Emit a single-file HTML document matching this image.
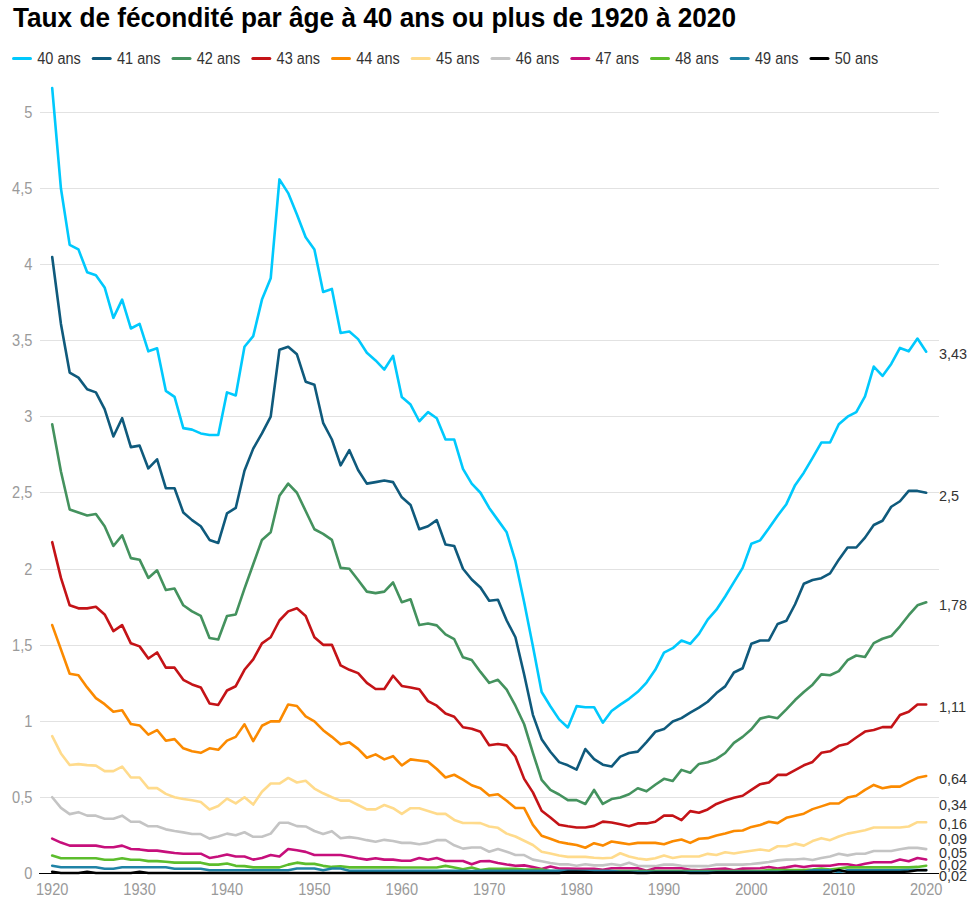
<!DOCTYPE html>
<html><head><meta charset="utf-8"><title>Taux de fécondité</title>
<style>html,body{margin:0;padding:0;background:#fff;}body{width:980px;height:910px;position:relative;overflow:hidden;font-family:"Liberation Sans", sans-serif;}</style>
</head><body>
<svg width="980" height="910" viewBox="0 0 980 910" style="position:absolute;left:0;top:0"><text x="13" y="26.7" font-family='"Liberation Sans", sans-serif' font-weight="bold" font-size="27.6" fill="#000" textLength="723" lengthAdjust="spacingAndGlyphs">Taux de fécondité par âge à 40 ans ou plus de 1920 à 2020</text><line x1="13.5" y1="58.5" x2="30.5" y2="58.5" stroke="#00c9fd" stroke-width="3" stroke-linecap="round"/><text x="37.3" y="63.6" font-family='"Liberation Sans", sans-serif' font-size="15.8" fill="#333" textLength="43.5" lengthAdjust="spacingAndGlyphs">40 ans</text><line x1="93.2" y1="58.5" x2="110.2" y2="58.5" stroke="#0f5a7c" stroke-width="3" stroke-linecap="round"/><text x="117.0" y="63.6" font-family='"Liberation Sans", sans-serif' font-size="15.8" fill="#333" textLength="43.5" lengthAdjust="spacingAndGlyphs">41 ans</text><line x1="173.0" y1="58.5" x2="190.0" y2="58.5" stroke="#44925e" stroke-width="3" stroke-linecap="round"/><text x="196.8" y="63.6" font-family='"Liberation Sans", sans-serif' font-size="15.8" fill="#333" textLength="43.5" lengthAdjust="spacingAndGlyphs">42 ans</text><line x1="252.8" y1="58.5" x2="269.8" y2="58.5" stroke="#c41317" stroke-width="3" stroke-linecap="round"/><text x="276.6" y="63.6" font-family='"Liberation Sans", sans-serif' font-size="15.8" fill="#333" textLength="43.5" lengthAdjust="spacingAndGlyphs">43 ans</text><line x1="332.5" y1="58.5" x2="349.5" y2="58.5" stroke="#fb8a00" stroke-width="3" stroke-linecap="round"/><text x="356.3" y="63.6" font-family='"Liberation Sans", sans-serif' font-size="15.8" fill="#333" textLength="43.5" lengthAdjust="spacingAndGlyphs">44 ans</text><line x1="412.2" y1="58.5" x2="429.2" y2="58.5" stroke="#ffdb8c" stroke-width="3" stroke-linecap="round"/><text x="436.1" y="63.6" font-family='"Liberation Sans", sans-serif' font-size="15.8" fill="#333" textLength="43.5" lengthAdjust="spacingAndGlyphs">45 ans</text><line x1="492.0" y1="58.5" x2="509.0" y2="58.5" stroke="#c4c4c4" stroke-width="3" stroke-linecap="round"/><text x="515.8" y="63.6" font-family='"Liberation Sans", sans-serif' font-size="15.8" fill="#333" textLength="43.5" lengthAdjust="spacingAndGlyphs">46 ans</text><line x1="571.8" y1="58.5" x2="588.8" y2="58.5" stroke="#c60f7b" stroke-width="3" stroke-linecap="round"/><text x="595.5" y="63.6" font-family='"Liberation Sans", sans-serif' font-size="15.8" fill="#333" textLength="43.5" lengthAdjust="spacingAndGlyphs">47 ans</text><line x1="651.5" y1="58.5" x2="668.5" y2="58.5" stroke="#5cbd2c" stroke-width="3" stroke-linecap="round"/><text x="675.3" y="63.6" font-family='"Liberation Sans", sans-serif' font-size="15.8" fill="#333" textLength="43.5" lengthAdjust="spacingAndGlyphs">48 ans</text><line x1="731.2" y1="58.5" x2="748.2" y2="58.5" stroke="#1f83a6" stroke-width="3" stroke-linecap="round"/><text x="755.0" y="63.6" font-family='"Liberation Sans", sans-serif' font-size="15.8" fill="#333" textLength="43.5" lengthAdjust="spacingAndGlyphs">49 ans</text><line x1="811.0" y1="58.5" x2="828.0" y2="58.5" stroke="#000000" stroke-width="3" stroke-linecap="round"/><text x="834.8" y="63.6" font-family='"Liberation Sans", sans-serif' font-size="15.8" fill="#333" textLength="43.5" lengthAdjust="spacingAndGlyphs">50 ans</text><line x1="40" y1="797.5" x2="939" y2="797.5" stroke="#e2e2e2" stroke-width="1"/><text transform="translate(32.4,803.1) scale(0.925,1)" text-anchor="end" font-family='"Liberation Sans", sans-serif' font-size="15.8" fill="#9a9a9a">0,5</text><line x1="40" y1="721.5" x2="939" y2="721.5" stroke="#e2e2e2" stroke-width="1"/><text transform="translate(32.4,727.1) scale(0.925,1)" text-anchor="end" font-family='"Liberation Sans", sans-serif' font-size="15.8" fill="#9a9a9a">1</text><line x1="40" y1="645.5" x2="939" y2="645.5" stroke="#e2e2e2" stroke-width="1"/><text transform="translate(32.4,651.1) scale(0.925,1)" text-anchor="end" font-family='"Liberation Sans", sans-serif' font-size="15.8" fill="#9a9a9a">1,5</text><line x1="40" y1="569.5" x2="939" y2="569.5" stroke="#e2e2e2" stroke-width="1"/><text transform="translate(32.4,575.1) scale(0.925,1)" text-anchor="end" font-family='"Liberation Sans", sans-serif' font-size="15.8" fill="#9a9a9a">2</text><line x1="40" y1="492.5" x2="939" y2="492.5" stroke="#e2e2e2" stroke-width="1"/><text transform="translate(32.4,498.1) scale(0.925,1)" text-anchor="end" font-family='"Liberation Sans", sans-serif' font-size="15.8" fill="#9a9a9a">2,5</text><line x1="40" y1="416.5" x2="939" y2="416.5" stroke="#e2e2e2" stroke-width="1"/><text transform="translate(32.4,422.1) scale(0.925,1)" text-anchor="end" font-family='"Liberation Sans", sans-serif' font-size="15.8" fill="#9a9a9a">3</text><line x1="40" y1="340.5" x2="939" y2="340.5" stroke="#e2e2e2" stroke-width="1"/><text transform="translate(32.4,346.1) scale(0.925,1)" text-anchor="end" font-family='"Liberation Sans", sans-serif' font-size="15.8" fill="#9a9a9a">3,5</text><line x1="40" y1="264.5" x2="939" y2="264.5" stroke="#e2e2e2" stroke-width="1"/><text transform="translate(32.4,270.1) scale(0.925,1)" text-anchor="end" font-family='"Liberation Sans", sans-serif' font-size="15.8" fill="#9a9a9a">4</text><line x1="40" y1="188.5" x2="939" y2="188.5" stroke="#e2e2e2" stroke-width="1"/><text transform="translate(32.4,194.1) scale(0.925,1)" text-anchor="end" font-family='"Liberation Sans", sans-serif' font-size="15.8" fill="#9a9a9a">4,5</text><line x1="40" y1="112.5" x2="939" y2="112.5" stroke="#e2e2e2" stroke-width="1"/><text transform="translate(32.4,118.1) scale(0.925,1)" text-anchor="end" font-family='"Liberation Sans", sans-serif' font-size="15.8" fill="#9a9a9a">5</text><text transform="translate(32.4,878.6) scale(0.925,1)" text-anchor="end" font-family='"Liberation Sans", sans-serif' font-size="15.8" fill="#9a9a9a">0</text><text transform="translate(52.2,894.9) scale(0.925,1)" text-anchor="middle" font-family='"Liberation Sans", sans-serif' font-size="15.8" fill="#9a9a9a">1920</text><text transform="translate(139.6,894.9) scale(0.925,1)" text-anchor="middle" font-family='"Liberation Sans", sans-serif' font-size="15.8" fill="#9a9a9a">1930</text><text transform="translate(227.0,894.9) scale(0.925,1)" text-anchor="middle" font-family='"Liberation Sans", sans-serif' font-size="15.8" fill="#9a9a9a">1940</text><text transform="translate(314.4,894.9) scale(0.925,1)" text-anchor="middle" font-family='"Liberation Sans", sans-serif' font-size="15.8" fill="#9a9a9a">1950</text><text transform="translate(401.8,894.9) scale(0.925,1)" text-anchor="middle" font-family='"Liberation Sans", sans-serif' font-size="15.8" fill="#9a9a9a">1960</text><text transform="translate(489.2,894.9) scale(0.925,1)" text-anchor="middle" font-family='"Liberation Sans", sans-serif' font-size="15.8" fill="#9a9a9a">1970</text><text transform="translate(576.6,894.9) scale(0.925,1)" text-anchor="middle" font-family='"Liberation Sans", sans-serif' font-size="15.8" fill="#9a9a9a">1980</text><text transform="translate(664.0,894.9) scale(0.925,1)" text-anchor="middle" font-family='"Liberation Sans", sans-serif' font-size="15.8" fill="#9a9a9a">1990</text><text transform="translate(751.4,894.9) scale(0.925,1)" text-anchor="middle" font-family='"Liberation Sans", sans-serif' font-size="15.8" fill="#9a9a9a">2000</text><text transform="translate(838.8,894.9) scale(0.925,1)" text-anchor="middle" font-family='"Liberation Sans", sans-serif' font-size="15.8" fill="#9a9a9a">2010</text><text transform="translate(926.2,894.9) scale(0.925,1)" text-anchor="middle" font-family='"Liberation Sans", sans-serif' font-size="15.8" fill="#9a9a9a">2020</text><polyline points="52.20,88.16 60.94,188.55 69.68,244.83 78.42,249.39 87.16,272.21 95.90,275.25 104.64,287.41 113.38,317.84 122.12,299.58 130.86,328.48 139.60,323.92 148.34,351.30 157.08,348.25 165.82,390.84 174.56,396.93 183.30,428.11 192.04,429.63 200.78,433.43 209.52,434.95 218.26,434.95 227.00,392.36 235.74,395.41 244.48,346.73 253.22,336.09 261.96,299.58 270.70,278.29 279.44,179.42 288.18,193.11 296.92,214.41 305.66,237.22 314.40,249.39 323.14,291.98 331.88,288.94 340.62,333.05 349.36,331.52 358.10,339.13 366.84,352.82 375.58,360.42 384.32,369.55 393.06,355.86 401.80,396.93 410.54,404.53 419.28,421.26 428.02,412.14 436.76,418.22 445.50,439.51 454.24,439.51 462.98,468.87 471.72,483.62 480.46,492.75 489.20,507.96 497.94,520.13 506.68,532.30 515.42,561.20 524.16,602.26 532.90,646.37 541.64,692.00 550.38,706.30 559.12,719.38 567.86,727.44 576.60,706.15 585.34,707.21 594.08,707.21 602.82,722.73 611.56,711.01 620.30,704.63 629.04,698.85 637.78,691.85 646.52,682.57 655.26,669.79 664.00,652.61 672.74,648.20 681.48,640.44 690.22,643.79 698.96,633.90 707.70,619.60 716.44,609.71 725.18,596.48 733.92,582.18 742.66,567.89 751.40,543.70 760.14,540.36 768.88,528.34 777.62,515.72 786.36,504.16 795.10,485.15 803.84,472.67 812.58,457.92 821.32,442.56 830.06,442.56 838.80,424.31 847.54,416.70 856.28,412.14 865.02,396.32 873.76,366.51 882.50,375.94 891.24,363.92 899.98,347.95 908.72,351.30 917.46,338.52 926.20,351.75" fill="none" stroke="#00c9fd" stroke-width="2.6" stroke-linejoin="round" stroke-linecap="round"/><polyline points="52.20,257.00 60.94,323.92 69.68,372.59 78.42,377.61 87.16,389.32 95.90,392.36 104.64,409.10 113.38,436.47 122.12,418.22 130.86,447.12 139.60,445.60 148.34,468.41 157.08,459.29 165.82,488.19 174.56,488.19 183.30,512.52 192.04,520.13 200.78,526.21 209.52,539.90 218.26,542.94 227.00,513.28 235.74,507.96 244.48,470.70 253.22,448.64 261.96,433.43 270.70,416.70 279.44,349.78 288.18,346.73 296.92,354.34 305.66,381.72 314.40,384.76 323.14,422.78 331.88,439.51 340.62,465.37 349.36,450.16 358.10,469.94 366.84,483.62 375.58,482.10 384.32,480.58 393.06,482.10 401.80,497.31 410.54,504.92 419.28,529.25 428.02,526.21 436.76,520.13 445.50,544.46 454.24,545.99 462.98,568.80 471.72,579.45 480.46,587.51 489.20,600.74 497.94,599.68 506.68,620.51 515.42,637.25 524.16,674.51 532.90,714.82 541.64,739.15 550.38,751.78 559.12,762.12 567.86,765.31 576.60,769.57 585.34,749.04 594.08,759.08 602.82,764.70 611.56,766.53 620.30,756.64 629.04,752.99 637.78,751.62 646.52,742.04 655.26,731.85 664.00,729.11 672.74,721.51 681.48,718.16 690.22,712.69 698.96,707.67 707.70,701.74 716.44,693.07 725.18,686.37 733.92,672.53 742.66,668.27 751.40,643.79 760.14,640.44 768.88,640.44 777.62,624.01 786.36,620.82 795.10,604.24 803.84,583.71 812.58,580.06 821.32,578.23 830.06,573.36 838.80,559.67 847.54,547.51 856.28,547.51 865.02,537.62 873.76,525.00 882.50,520.74 891.24,506.74 899.98,501.27 908.72,490.92 917.46,490.92 926.20,492.75" fill="none" stroke="#0f5a7c" stroke-width="2.6" stroke-linejoin="round" stroke-linecap="round"/><polyline points="52.20,424.31 60.94,471.46 69.68,509.48 78.42,512.52 87.16,515.57 95.90,514.04 104.64,526.21 113.38,545.99 122.12,535.34 130.86,558.15 139.60,559.67 148.34,577.93 157.08,570.32 165.82,590.09 174.56,588.57 183.30,605.30 192.04,611.39 200.78,615.95 209.52,638.01 218.26,639.53 227.00,615.95 235.74,614.43 244.48,588.57 253.22,564.24 261.96,539.90 270.70,532.30 279.44,495.79 288.18,483.62 296.92,492.75 305.66,511.00 314.40,529.25 323.14,533.82 331.88,539.90 340.62,567.89 349.36,568.80 358.10,580.06 366.84,591.62 375.58,593.14 384.32,591.62 393.06,582.49 401.80,602.26 410.54,599.22 419.28,625.08 428.02,623.56 436.76,625.38 445.50,634.36 454.24,639.22 462.98,657.32 471.72,660.06 480.46,671.92 489.20,682.88 497.94,679.83 506.68,689.72 515.42,705.69 524.16,724.25 532.90,752.84 541.64,779.91 550.38,789.95 559.12,794.52 567.86,800.14 576.60,800.14 585.34,803.95 594.08,789.95 602.82,803.95 611.56,799.08 620.30,797.41 629.04,794.21 637.78,788.28 646.52,791.32 655.26,784.78 664.00,778.85 672.74,780.98 681.48,769.88 690.22,772.77 698.96,763.94 707.70,762.27 716.44,758.92 725.18,752.99 733.92,742.80 742.66,736.87 751.40,729.27 760.14,718.62 768.88,716.49 777.62,718.16 786.36,709.34 795.10,700.06 803.84,692.00 812.58,684.70 821.32,674.36 830.06,675.27 838.80,671.16 847.54,660.21 856.28,655.50 865.02,657.02 873.76,643.18 882.50,638.77 891.24,636.03 899.98,626.29 908.72,615.19 917.46,605.30 926.20,602.26" fill="none" stroke="#44925e" stroke-width="2.6" stroke-linejoin="round" stroke-linecap="round"/><polyline points="52.20,542.18 60.94,577.93 69.68,605.30 78.42,608.35 87.16,608.35 95.90,606.83 104.64,614.43 113.38,631.16 122.12,625.08 130.86,643.33 139.60,646.37 148.34,658.54 157.08,652.46 165.82,667.66 174.56,667.66 183.30,679.83 192.04,684.40 200.78,687.44 209.52,703.41 218.26,704.93 227.00,690.48 235.74,686.22 244.48,669.79 253.22,659.30 261.96,643.33 270.70,637.25 279.44,620.51 288.18,611.39 296.92,608.35 305.66,615.95 314.40,637.25 323.14,644.85 331.88,644.85 340.62,665.38 349.36,669.79 358.10,673.14 366.84,682.88 375.58,688.96 384.32,688.96 393.06,675.73 401.80,685.92 410.54,687.44 419.28,689.26 428.02,701.13 436.76,705.69 445.50,713.45 454.24,716.79 462.98,727.29 471.72,728.81 480.46,731.85 489.20,745.24 497.94,744.02 506.68,745.39 515.42,756.49 524.16,778.85 532.90,792.39 541.64,810.79 550.38,817.48 559.12,824.78 567.86,826.31 576.60,827.52 585.34,827.52 594.08,825.85 602.82,821.59 611.56,822.50 620.30,824.33 629.04,826.31 637.78,823.42 646.52,823.42 655.26,821.74 664.00,815.66 672.74,815.66 681.48,820.22 690.22,811.10 698.96,812.77 707.70,809.42 716.44,803.95 725.18,800.60 733.92,797.86 742.66,795.73 751.40,789.80 760.14,784.17 768.88,782.50 777.62,774.90 786.36,774.90 795.10,770.18 803.84,765.31 812.58,761.97 821.32,752.84 830.06,751.32 838.80,745.84 847.54,743.72 856.28,737.48 865.02,731.55 873.76,730.03 882.50,727.14 891.24,727.14 899.98,714.97 908.72,711.77 917.46,704.47 926.20,704.47" fill="none" stroke="#c41317" stroke-width="2.6" stroke-linejoin="round" stroke-linecap="round"/><polyline points="52.20,625.08 60.94,649.41 69.68,673.75 78.42,675.27 87.16,687.44 95.90,698.09 104.64,704.17 113.38,711.77 122.12,710.25 130.86,723.94 139.60,725.46 148.34,734.59 157.08,730.03 165.82,740.67 174.56,739.15 183.30,748.28 192.04,751.32 200.78,752.84 209.52,748.28 218.26,749.80 227.00,740.67 235.74,736.87 244.48,724.25 253.22,741.13 261.96,725.77 270.70,721.36 279.44,721.36 288.18,704.47 296.92,705.99 305.66,716.34 314.40,721.36 323.14,730.18 331.88,736.87 340.62,744.17 349.36,742.35 358.10,748.89 366.84,757.71 375.58,754.36 384.32,759.38 393.06,756.19 401.80,765.47 410.54,759.38 419.28,760.45 428.02,761.66 436.76,768.96 445.50,777.48 454.24,774.74 462.98,779.61 471.72,785.24 480.46,788.28 489.20,795.58 497.94,794.21 506.68,800.75 515.42,808.05 524.16,808.05 532.90,824.94 541.64,835.74 550.38,838.78 559.12,841.97 567.86,843.64 576.60,845.01 585.34,847.75 594.08,843.19 602.82,845.62 611.56,841.52 620.30,842.88 629.04,844.25 637.78,842.88 646.52,842.88 655.26,842.88 664.00,844.25 672.74,841.21 681.48,839.54 690.22,842.88 698.96,838.78 707.70,838.17 716.44,835.43 725.18,833.45 733.92,831.02 742.66,830.56 751.40,826.91 760.14,824.94 768.88,821.74 777.62,823.11 786.36,817.79 795.10,815.66 803.84,813.68 812.58,809.12 821.32,806.38 830.06,803.49 838.80,803.49 847.54,797.56 856.28,795.73 865.02,789.80 873.76,784.93 882.50,788.28 891.24,786.61 899.98,786.61 908.72,782.20 917.46,777.79 926.20,775.96" fill="none" stroke="#fb8a00" stroke-width="2.6" stroke-linejoin="round" stroke-linecap="round"/><polyline points="52.20,736.11 60.94,753.45 69.68,765.01 78.42,764.10 87.16,765.16 95.90,765.62 104.64,771.09 113.38,771.09 122.12,766.53 130.86,777.48 139.60,777.48 148.34,788.13 157.08,788.13 165.82,793.91 174.56,797.25 183.30,798.93 192.04,800.30 200.78,801.97 209.52,809.57 218.26,806.08 227.00,798.62 235.74,803.34 244.48,797.25 253.22,804.56 261.96,791.78 270.70,783.57 279.44,783.57 288.18,777.94 296.92,782.50 305.66,780.83 314.40,788.58 323.14,793.30 331.88,797.25 340.62,800.60 349.36,800.60 358.10,805.01 366.84,809.42 375.58,809.42 384.32,805.01 393.06,808.21 401.80,813.83 410.54,808.21 419.28,808.21 428.02,810.94 436.76,813.83 445.50,813.83 454.24,819.92 462.98,822.96 471.72,822.96 480.46,823.11 489.20,826.46 497.94,827.83 506.68,833.61 515.42,836.50 524.16,840.75 532.90,845.01 541.64,851.71 550.38,853.53 559.12,855.51 567.86,856.88 576.60,856.88 585.34,856.88 594.08,857.79 602.82,858.25 611.56,857.79 620.30,853.23 629.04,856.57 637.78,858.55 646.52,859.62 655.26,858.25 664.00,855.51 672.74,857.94 681.48,856.57 690.22,856.57 698.96,856.57 707.70,853.84 716.44,855.05 725.18,852.31 733.92,853.53 742.66,852.01 751.40,850.79 760.14,849.42 768.88,850.79 777.62,846.23 786.36,846.23 795.10,843.64 803.84,845.62 812.58,841.06 821.32,838.17 830.06,840.15 838.80,836.50 847.54,833.61 856.28,831.93 865.02,830.26 873.76,827.52 882.50,827.52 891.24,827.52 899.98,827.52 908.72,826.46 917.46,822.20 926.20,822.20" fill="none" stroke="#ffdb8c" stroke-width="2.6" stroke-linejoin="round" stroke-linecap="round"/><polyline points="52.20,797.25 60.94,807.90 69.68,814.14 78.42,812.16 87.16,815.66 95.90,815.66 104.64,818.70 113.38,818.70 122.12,815.66 130.86,821.74 139.60,821.74 148.34,826.31 157.08,826.31 165.82,829.35 174.56,831.02 183.30,832.39 192.04,834.06 200.78,834.06 209.52,838.63 218.26,836.50 227.00,833.61 235.74,835.28 244.48,832.24 253.22,836.80 261.96,836.80 270.70,833.61 279.44,822.81 288.18,822.81 296.92,826.15 305.66,826.46 314.40,831.02 323.14,834.06 331.88,831.17 340.62,838.32 349.36,837.10 358.10,838.32 366.84,840.15 375.58,841.67 384.32,839.84 393.06,841.06 401.80,842.88 410.54,842.88 419.28,844.25 428.02,842.88 436.76,840.15 445.50,839.99 454.24,845.32 462.98,848.66 471.72,847.45 480.46,847.45 489.20,851.71 497.94,848.97 506.68,851.71 515.42,855.05 524.16,855.05 532.90,859.62 541.64,861.29 550.38,862.96 559.12,864.33 567.86,864.33 576.60,865.70 585.34,864.33 594.08,865.39 602.82,865.39 611.56,864.03 620.30,865.39 629.04,862.66 637.78,865.70 646.52,866.16 655.26,866.16 664.00,864.63 672.74,864.63 681.48,865.70 690.22,866.16 698.96,866.16 707.70,866.16 716.44,864.63 725.18,864.63 733.92,864.63 742.66,864.63 751.40,864.03 760.14,863.11 768.88,862.05 777.62,860.38 786.36,859.62 795.10,859.46 803.84,858.70 812.58,859.92 821.32,858.09 830.06,856.42 838.80,853.68 847.54,855.36 856.28,853.68 865.02,853.68 873.76,850.95 882.50,850.95 891.24,850.95 899.98,849.27 908.72,847.90 917.46,847.90 926.20,849.12" fill="none" stroke="#c4c4c4" stroke-width="2.6" stroke-linejoin="round" stroke-linecap="round"/><polyline points="52.20,838.63 60.94,842.58 69.68,845.62 78.42,845.62 87.16,845.62 95.90,845.62 104.64,847.30 113.38,847.30 122.12,845.62 130.86,848.97 139.60,849.42 148.34,850.64 157.08,850.64 165.82,851.86 174.56,853.07 183.30,853.68 192.04,853.68 200.78,853.68 209.52,857.94 218.26,856.57 227.00,854.44 235.74,856.57 244.48,856.57 253.22,859.62 261.96,857.94 270.70,855.05 279.44,856.57 288.18,848.97 296.92,850.34 305.66,851.86 314.40,855.05 323.14,855.05 331.88,855.05 340.62,855.05 349.36,856.57 358.10,858.25 366.84,859.62 375.58,858.25 384.32,859.62 393.06,859.62 401.80,860.68 410.54,860.68 419.28,858.09 428.02,859.77 436.76,858.09 445.50,860.98 454.24,860.98 462.98,860.98 471.72,864.33 480.46,861.29 489.20,860.98 497.94,862.96 506.68,864.48 515.42,865.70 524.16,865.39 532.90,867.07 541.64,869.05 550.38,866.46 559.12,868.44 567.86,868.59 576.60,868.89 585.34,868.89 594.08,868.89 602.82,869.81 611.56,868.28 620.30,868.28 629.04,868.28 637.78,868.28 646.52,870.87 655.26,868.28 664.00,868.28 672.74,868.28 681.48,868.28 690.22,869.81 698.96,870.26 707.70,869.65 716.44,869.05 725.18,868.59 733.92,870.26 742.66,868.59 751.40,868.44 760.14,868.28 768.88,866.92 777.62,868.59 786.36,867.37 795.10,865.70 803.84,867.07 812.58,865.70 821.32,865.70 830.06,865.70 838.80,864.18 847.54,864.18 856.28,865.70 865.02,863.72 873.76,862.20 882.50,862.20 891.24,862.20 899.98,859.46 908.72,861.29 917.46,857.94 926.20,859.46" fill="none" stroke="#c60f7b" stroke-width="2.6" stroke-linejoin="round" stroke-linecap="round"/><polyline points="52.20,855.51 60.94,858.25 69.68,858.25 78.42,858.25 87.16,858.25 95.90,858.25 104.64,859.77 113.38,859.77 122.12,858.25 130.86,859.77 139.60,859.77 148.34,861.14 157.08,861.14 165.82,861.74 174.56,862.66 183.30,862.66 192.04,862.66 200.78,862.66 209.52,864.63 218.26,864.63 227.00,863.57 235.74,865.85 244.48,866.16 253.22,867.37 261.96,867.37 270.70,867.37 279.44,867.37 288.18,864.63 296.92,862.66 305.66,863.87 314.40,863.87 323.14,865.85 331.88,866.92 340.62,866.31 349.36,867.37 358.10,867.37 366.84,867.37 375.58,867.37 384.32,867.37 393.06,867.37 401.80,867.52 410.54,867.52 419.28,867.52 428.02,867.52 436.76,867.52 445.50,865.85 454.24,867.52 462.98,869.20 471.72,867.52 480.46,869.96 489.20,868.74 497.94,868.74 506.68,868.74 515.42,868.74 524.16,869.65 532.90,869.65 541.64,869.65 550.38,871.02 559.12,871.02 567.86,871.02 576.60,871.02 585.34,871.02 594.08,871.02 602.82,871.02 611.56,871.02 620.30,871.02 629.04,871.02 637.78,871.02 646.52,871.02 655.26,871.02 664.00,871.02 672.74,871.02 681.48,871.02 690.22,871.02 698.96,871.02 707.70,871.02 716.44,871.02 725.18,871.02 733.92,871.02 742.66,871.02 751.40,871.02 760.14,871.02 768.88,869.96 777.62,869.96 786.36,869.96 795.10,869.96 803.84,869.96 812.58,869.65 821.32,868.44 830.06,869.65 838.80,868.44 847.54,867.37 856.28,867.37 865.02,867.37 873.76,867.37 882.50,867.37 891.24,867.37 899.98,867.37 908.72,867.37 917.46,866.92 926.20,865.70" fill="none" stroke="#5cbd2c" stroke-width="2.6" stroke-linejoin="round" stroke-linecap="round"/><polyline points="52.20,865.70 60.94,867.22 69.68,867.22 78.42,867.22 87.16,867.22 95.90,867.22 104.64,868.74 113.38,868.74 122.12,867.22 130.86,867.22 139.60,867.22 148.34,867.22 157.08,867.22 165.82,867.22 174.56,868.74 183.30,868.74 192.04,868.74 200.78,868.74 209.52,870.26 218.26,870.26 227.00,870.26 235.74,870.26 244.48,870.26 253.22,870.26 261.96,870.26 270.70,870.26 279.44,870.26 288.18,870.26 296.92,868.44 305.66,868.44 314.40,868.44 323.14,870.26 331.88,868.44 340.62,868.44 349.36,870.72 358.10,870.72 366.84,870.72 375.58,870.72 384.32,870.72 393.06,870.72 401.80,870.72 410.54,870.72 419.28,870.72 428.02,870.72 436.76,870.72 445.50,870.72 454.24,870.72 462.98,870.72 471.72,871.17 480.46,870.87 489.20,870.87 497.94,870.87 506.68,870.87 515.42,870.87 524.16,870.87 532.90,870.87 541.64,870.87 550.38,870.87 559.12,870.87 567.86,870.87 576.60,871.17 585.34,871.17 594.08,871.17 602.82,871.17 611.56,871.17 620.30,871.78 629.04,871.78 637.78,871.78 646.52,871.78 655.26,871.78 664.00,871.78 672.74,871.78 681.48,871.78 690.22,871.78 698.96,871.78 707.70,871.78 716.44,871.78 725.18,871.78 733.92,871.78 742.66,871.78 751.40,871.78 760.14,871.78 768.88,871.78 777.62,871.78 786.36,871.78 795.10,871.78 803.84,871.78 812.58,870.26 821.32,870.26 830.06,870.26 838.80,872.24 847.54,870.26 856.28,870.26 865.02,870.26 873.76,870.26 882.50,870.26 891.24,870.26 899.98,870.26 908.72,869.96 917.46,869.96 926.20,869.96" fill="none" stroke="#1f83a6" stroke-width="2.6" stroke-linejoin="round" stroke-linecap="round"/><polyline points="52.20,871.78 60.94,873.00 69.68,873.00 78.42,873.00 87.16,871.78 95.90,873.00 104.64,873.00 113.38,873.00 122.12,873.00 130.86,873.00 139.60,871.78 148.34,873.00 157.08,873.00 165.82,873.00 174.56,873.00 183.30,873.00 192.04,873.00 200.78,873.00 209.52,873.00 218.26,873.00 227.00,873.00 235.74,873.00 244.48,873.00 253.22,873.00 261.96,873.00 270.70,873.00 279.44,873.00 288.18,873.00 296.92,873.00 305.66,873.00 314.40,873.00 323.14,873.00 331.88,873.00 340.62,873.00 349.36,873.00 358.10,873.00 366.84,873.00 375.58,873.00 384.32,873.00 393.06,873.00 401.80,873.00 410.54,873.00 419.28,873.00 428.02,873.00 436.76,873.00 445.50,873.00 454.24,873.00 462.98,873.00 471.72,873.00 480.46,873.00 489.20,873.00 497.94,873.00 506.68,873.00 515.42,873.00 524.16,873.00 532.90,873.00 541.64,873.00 550.38,873.00 559.12,873.00 567.86,871.78 576.60,871.78 585.34,872.09 594.08,872.54 602.82,872.54 611.56,872.54 620.30,872.54 629.04,872.54 637.78,873.00 646.52,873.00 655.26,872.54 664.00,872.54 672.74,872.54 681.48,872.54 690.22,873.00 698.96,873.00 707.70,873.00 716.44,872.54 725.18,872.54 733.92,872.54 742.66,872.54 751.40,872.54 760.14,872.54 768.88,872.54 777.62,872.54 786.36,871.94 795.10,871.94 803.84,871.94 812.58,871.94 821.32,871.94 830.06,871.94 838.80,869.96 847.54,871.94 856.28,871.94 865.02,871.94 873.76,871.94 882.50,871.94 891.24,871.94 899.98,871.94 908.72,871.48 917.46,870.26 926.20,870.26" fill="none" stroke="#000000" stroke-width="2.6" stroke-linejoin="round" stroke-linecap="round"/><line x1="39" y1="873.5" x2="939" y2="873.5" stroke="#000" stroke-width="1"/><text transform="translate(939.0,359.0) scale(0.93,1)" font-family='"Liberation Sans", sans-serif' font-size="15.5" fill="#333">3,43</text><text transform="translate(939.0,501.0) scale(0.93,1)" font-family='"Liberation Sans", sans-serif' font-size="15.5" fill="#333">2,5</text><text transform="translate(939.0,610.0) scale(0.93,1)" font-family='"Liberation Sans", sans-serif' font-size="15.5" fill="#333">1,78</text><text transform="translate(939.0,712.0) scale(0.93,1)" font-family='"Liberation Sans", sans-serif' font-size="15.5" fill="#333">1,11</text><text transform="translate(939.0,783.5) scale(0.93,1)" font-family='"Liberation Sans", sans-serif' font-size="15.5" fill="#333">0,64</text><text transform="translate(939.0,809.8) scale(0.93,1)" font-family='"Liberation Sans", sans-serif' font-size="15.5" fill="#333">0,34</text><text transform="translate(939.0,828.5) scale(0.93,1)" font-family='"Liberation Sans", sans-serif' font-size="15.5" fill="#333">0,16</text><text transform="translate(939.0,844.3) scale(0.93,1)" font-family='"Liberation Sans", sans-serif' font-size="15.5" fill="#333">0,09</text><text transform="translate(939.0,858.3) scale(0.93,1)" font-family='"Liberation Sans", sans-serif' font-size="15.5" fill="#333">0,05</text><text transform="translate(939.0,869.7) scale(0.93,1)" font-family='"Liberation Sans", sans-serif' font-size="15.5" fill="#333">0,02</text><text transform="translate(939.0,880.9) scale(0.93,1)" font-family='"Liberation Sans", sans-serif' font-size="15.5" fill="#333">0,02</text></svg>
</body></html>
